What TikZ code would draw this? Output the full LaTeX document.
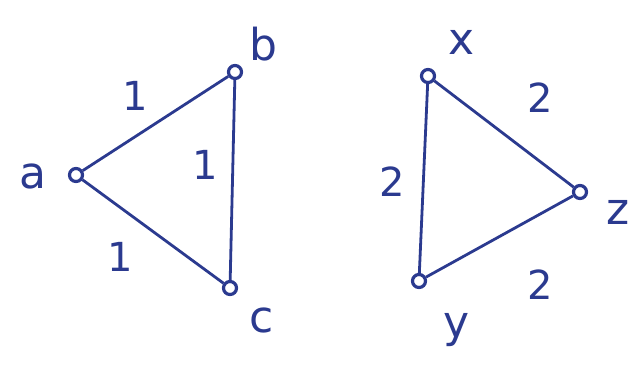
\documentclass[tikz,border=0pt]{standalone}
\usepackage{fontspec}
\setmainfont{DejaVu Sans}
\definecolor{ink}{HTML}{2B3A8F}
\begin{document}
\begin{tikzpicture}[x=1pt,y=-1pt,
  vert/.style={circle,draw=ink,line width=3.2pt,inner sep=0pt,minimum size=13pt},
  edge/.style={draw=ink,line width=2.8pt},
  lab/.style={text=ink,font=\fontsize{44}{44}\selectfont,inner sep=0pt},
  wlab/.style={text=ink,font=\fontsize{40}{40}\selectfont,inner sep=0pt}]
\useasboundingbox (0,0) rectangle (641,365);
\node[vert] (a) at (76,175) {};
\node[vert] (b) at (235,72) {};
\node[vert] (c) at (230,288) {};
\node[vert] (x) at (428,76) {};
\node[vert] (z) at (580,192) {};
\node[vert] (y) at (419,281) {};
\draw[edge] (a) -- (b);
\draw[edge] (b) -- (c);
\draw[edge] (a) -- (c);
\draw[edge] (x) -- (z);
\draw[edge] (z) -- (y);
\draw[edge] (x) -- (y);
\node[lab] (la) at (33,176) {a};
\node[lab] (lb) at (263,44) {b};
\node[lab] (lc) at (262,320) {c};
\node[lab] (lx) at (462,42) {x};
\node[lab] (lz) at (618,212) {z};
\node[lab] (ly) at (457,330) {y};
\node[wlab] (w1) at (135,96) {1};
\node[wlab] (w2) at (205,165) {1};
\node[wlab] (w3) at (120,257) {1};
\node[wlab] (w4) at (540,98) {2};
\node[wlab] (w5) at (392,182) {2};
\node[wlab] (w6) at (540,285) {2};
\end{tikzpicture}
\end{document}
